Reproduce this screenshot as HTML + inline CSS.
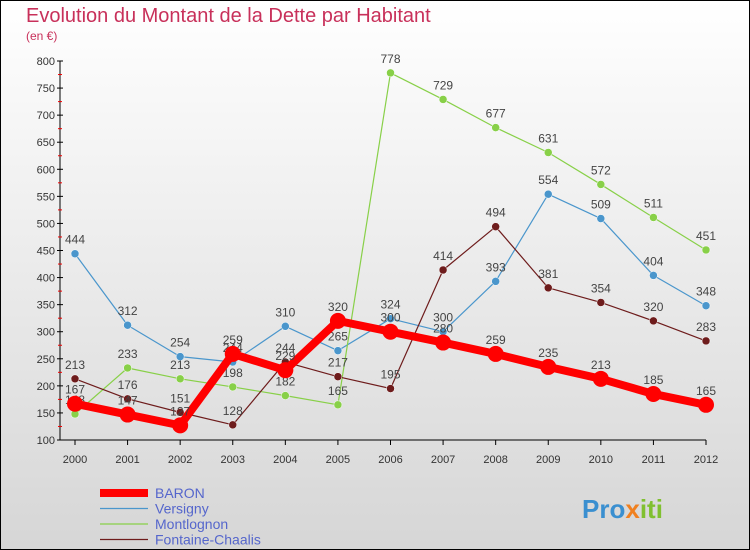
<!DOCTYPE html>
<html><head><meta charset="utf-8"><style>
body{margin:0;width:750px;height:550px;overflow:hidden;font-family:"Liberation Sans",sans-serif}
svg{display:block}
</style></head><body>
<svg id="c" width="750" height="550" xmlns="http://www.w3.org/2000/svg">
<defs><linearGradient id="bg" x1="0" y1="0" x2="0" y2="1"><stop offset="0" stop-color="#ffffff"/><stop offset="1" stop-color="#d6d6d6"/></linearGradient></defs>
<rect x="0.5" y="0.5" width="749" height="549" fill="url(#bg)" stroke="#000" stroke-width="1"/>
<text x="26" y="22" font-size="20" fill="#c8305a" font-weight="300">Evolution du Montant de la Dette par Habitant</text>
<text x="26" y="40" font-size="12" fill="#c8305a">(en €)</text>
<g id="axes"></g><g id="series"></g><g id="legend"></g>
<text x="582" y="518" font-size="26" font-weight="bold" fill="#3a8fd0">Pro<tspan fill="#f08020">x</tspan><tspan fill="#80c030">iti</tspan></text>
</svg>
<script>
const years=[2000,2001,2002,2003,2004,2005,2006,2007,2008,2009,2010,2011,2012];
const yTicks=[100,150,200,250,300,350,400,450,500,550,600,650,700,750,800];
const baron=[167,147,127,259,229,320,300,280,259,235,213,185,165];
const versigny=[444,312,254,244,310,265,324,300,393,554,509,404,348];
const montlognon=[148,233,213,198,182,165,778,729,677,631,572,511,451];
const fontaine=[213,176,151,128,244,217,195,414,494,381,354,320,283];
const NS="http://www.w3.org/2000/svg";
const X=i=>75+i*(706-75)/12;
const Y=v=>440-(v-100)*(440-61)/700;
function mk(t,a,p){const e=document.createElementNS(NS,t);for(const k in a)e.setAttribute(k,a[k]);p.appendChild(e);return e;}
const ax=document.getElementById('axes');
const yl=mk('line',{x1:60,y1:61,x2:60,y2:440,stroke:'#000'},ax);


const xl=mk('line',{x1:60,y1:440,x2:706,y2:440,stroke:'#000'},ax);


yTicks.forEach(v=>{
 mk('line',{x1:57,y1:Y(v),x2:63,y2:Y(v),stroke:'#000'},ax);
 if(v<800) mk('line',{x1:58,y1:Y(v+25),x2:62,y2:Y(v+25),stroke:'#e00'},ax);
 const t=mk('text',{x:55,y:Y(v)+4,'font-size':11,'text-anchor':'end',fill:'#333'},ax);t.textContent=v;
 
 
});
years.forEach((y,i)=>{
 mk('line',{x1:X(i),y1:440,x2:X(i),y2:445,stroke:'#000'},ax);
 const t=mk('text',{x:X(i),y:463,'font-size':11,'text-anchor':'middle',fill:'#333'},ax);t.textContent=y;
 
 
});
const sg=document.getElementById('series');
const defs=[
 {name:'versigny',d:versigny,c:'#4a96cc',w:1.2,r:4,label:'Versigny'},
 {name:'montlognon',d:montlognon,c:'#88d048',w:1.2,r:4,label:'Montlognon'},
 {name:'fontaine-chaalis',d:fontaine,c:'#6e1c1c',w:1.2,r:4,label:'Fontaine-Chaalis'},
 {name:'baron',d:baron,c:'#ff0000',w:8,r:8,label:'BARON'}];
defs.forEach(s=>{
 const g=mk('g',{},sg);
 
 
 const pl=mk('polyline',{points:s.d.map((v,i)=>X(i)+','+Y(v)).join(' '),fill:'none',stroke:s.c,'stroke-width':s.w,'stroke-linejoin':'round'},g);
 
 
 s.d.forEach((v,i)=>{
  const c=mk('circle',{cx:X(i),cy:Y(v),r:s.r,fill:s.c,stroke:s.w<2?'#fff':'none','stroke-width':0.5},g);
  
  
  const t=mk('text',{x:X(i),y:Y(v)-10,'font-size':12,'text-anchor':'middle',fill:'#444'},g);t.textContent=v;
  
  
 });
});
const lg=document.getElementById('legend');
[defs[3],defs[0],defs[1],defs[2]].forEach((s,k)=>{
 const y=493+k*15.5;
 const l=mk('line',{x1:100,y1:y,x2:148,y2:y,stroke:s.c,'stroke-width':s.w},lg);
 
 
 const t=mk('text',{x:155,y:y+5,'font-size':14,fill:'#5566cc'},lg);t.textContent=s.label;
 
 
});
</script>
</body></html>
